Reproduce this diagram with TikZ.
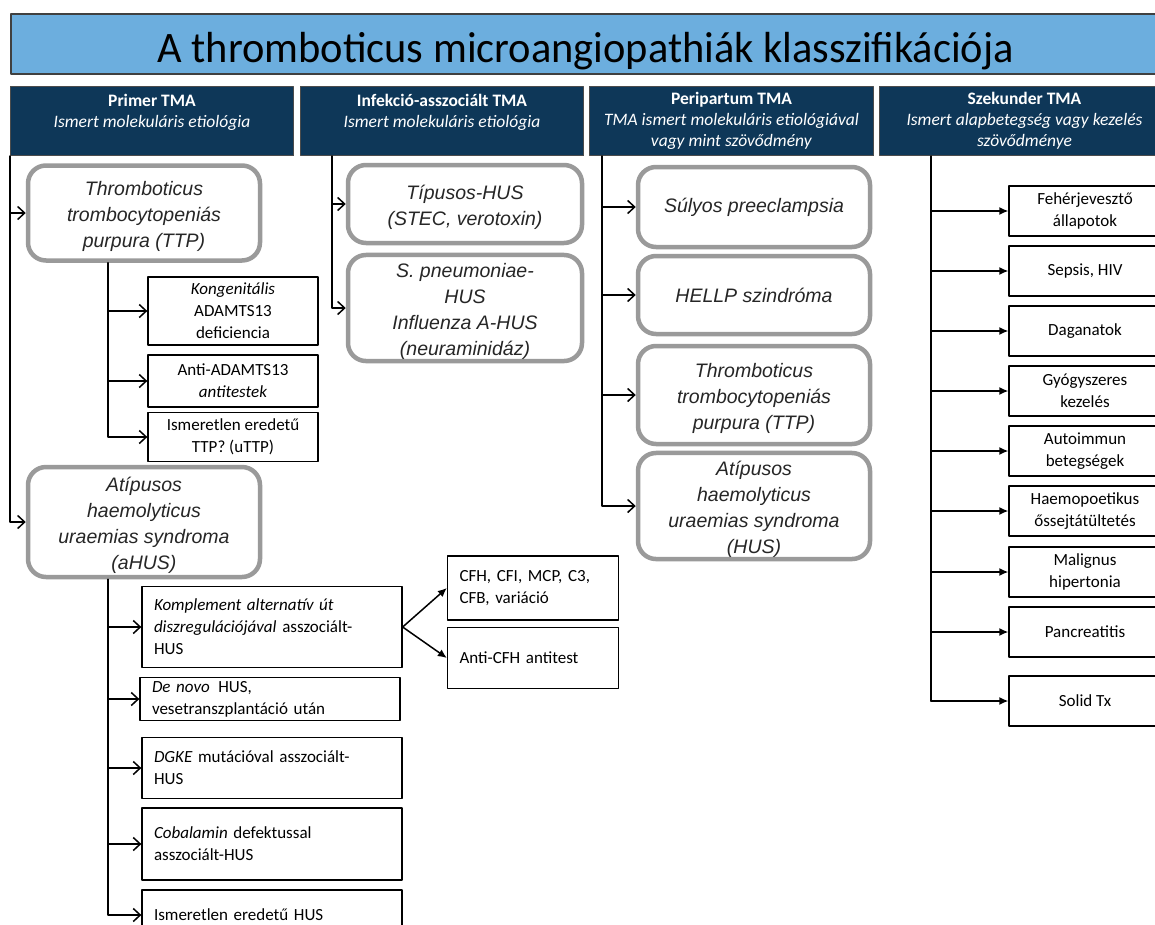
\documentclass[tikz,border=0pt]{standalone}
\usepackage{fontspec}
\usepackage{graphicx}
\setmainfont{Carlito}
\newfontfamily\arialfont{Liberation Sans}
\usetikzlibrary{arrows.meta}
\definecolor{titleblue}{HTML}{6CAEDE}
\definecolor{navy}{HTML}{0E3758}
\definecolor{boxgray}{HTML}{9A9A9A}
\newcommand{\gstrut}{\rule{0pt}{22pt}}
\begin{document}
\begin{tikzpicture}[x=1pt, y=-1pt, line join=round, line cap=round,
    hdr/.style={fill=navy, draw=black!70, line width=1pt, text=white, anchor=north west,
      minimum width=283, minimum height=69, align=center, font=\fontsize{17.5}{21}\selectfont},
    gbox/.style={draw=boxgray, line width=4.5pt, rounded corners=18pt, fill=white, text=black!85,
      minimum width=232, inner ysep=1pt, align=center, font=\arialfont\itshape\fontsize{19.5}{26}\selectfont},
    sbox/.style={draw=black, line width=1.3pt, fill=white, align=center,
      font=\fontsize{17}{22}\selectfont},
    lbox/.style={sbox, align=left, inner xsep=12pt},
    opn/.style={-{Straight Barb[length=7pt,width=13pt]}, line width=1.5pt},
    fil/.style={-{Latex[length=9pt,width=8pt]}, line width=1.5pt}]
\useasboundingbox (0,0) rectangle (1155,924);
\fill[white] (0,0) rectangle (1155,924);

% title and the four headers
\node[draw=black!75, line width=1.5pt, fill=titleblue, anchor=north west, minimum width=1150,
  minimum height=60, text height=40pt, text depth=2pt, font=\fontsize{43.5}{48}\selectfont] (title) at (10,13)
  {\scalebox{0.975}[1]{A thromboticus microangiopathiák klasszifikációja}};
\node[hdr] (prim) at (10,86) {\textbf{Primer TMA}\\\textit{Ismert molekuláris etiológia}\\~};
\node[hdr] (infk) at (300,86) {\textbf{Infekció-asszociált TMA}\\\textit{Ismert molekuláris etiológia}\\~};
\node[hdr, minimum width=284] (peri) at (589,86) {\textbf{Peripartum TMA}\\\textit{TMA ismert molekuláris etiológiával}\\\textit{vagy mint szövődmény}};
\node[hdr, minimum width=290] (szek) at (879,86) {\textbf{Szekunder TMA}\\\textit{Ismert alapbetegség vagy kezelés}\\\textit{szövődménye}};

\coordinate (t1) at (prim.south west);
\coordinate (t2) at ([xshift=32pt]infk.south west);
\coordinate (t3) at ([xshift=13pt]peri.south west);
\coordinate (t4) at ([xshift=52pt]szek.south west);

% primer TMA
\node[gbox, minimum height=95] (ttp) at (144,213) {\gstrut Thromboticus\\trombocytopeniás\\purpura (TTP)};
\node[gbox, minimum height=110] (ahus) at (144,522) {\gstrut Atípusos\\haemolyticus\\uraemias syndroma\\(aHUS)};
\draw[opn] (t1) |- (ahus.west);
\draw[opn] (t1 |- ttp.west) -- (ttp.west);

\node[sbox, minimum width=170, minimum height=68] (kong) at (233,311) {\textit{Kongenitális}\\ADAMTS13\\deficiencia};
\node[sbox, minimum width=170, minimum height=52] (anti) at (233,381) {Anti-ADAMTS13\\\textit{antitestek}};
\node[sbox, minimum width=170, minimum height=49] (uttp) at (233,437) {Ismeretlen eredetű\\TTP? (uTTP)};
\coordinate (s1) at ([xshift=-36pt]ttp.south);
\draw[opn] (s1) |- (uttp.west);
\foreach \nm in {kong,anti}
  \draw[opn] (s1 |- \nm.west) -- (\nm.west);

\node[lbox, text width=236, minimum height=81] (komp) at (272,627) {\textit{Komplement alternatív út}\\\textit{diszregulációjával} asszociált-\\HUS};
\node[lbox, text width=236, minimum height=42] (denv) at (270,699) {\textit{De novo}\, HUS,\\vesetranszplantáció után};
\node[lbox, text width=236, minimum height=61] (dgke) at (272,768) {\textit{DGKE} mutációval asszociált-\\HUS};
\node[lbox, text width=236, minimum height=72] (coba) at (272,844) {\textit{Cobalamin} defektussal\\asszociált-HUS};
\node[lbox, text width=236, minimum height=50] (ihus) at (272,915) {Ismeretlen eredetű HUS};
\coordinate (s2) at ([xshift=-36pt]ahus.south);
\draw[opn] (s2) |- (ihus.west);
\foreach \nm in {komp,denv,dgke,coba}
  \draw[opn] (s2 |- \nm.west) -- (\nm.west);

\node[lbox, text width=147, minimum height=64] (cfh) at (533,588) {CFH, CFI, MCP, C3,\\CFB, variáció};
\node[lbox, text width=147, minimum height=61] (acfh) at (533,658) {Anti-CFH antitest};
\draw[fil] (komp.east) -- (cfh.west);
\draw[fil] (komp.east) -- (acfh.west);

% infekcio-asszocialt TMA
\node[gbox, minimum width=234, minimum height=78] (tipu) at (465,204) {\gstrut Típusos-HUS\\(STEC, verotoxin)};
\node[gbox, minimum width=234, minimum height=106] (pneu) at (465,308) {\gstrut S. pneumoniae-\\HUS\\Influenza A-HUS\\(neuraminidáz)};
\draw[opn] (t2) |- (pneu.west);
\draw[opn] (t2 |- tipu.west) -- (tipu.west);

% peripartum TMA
\node[gbox, minimum height=80] (prec) at (754,207) {Súlyos preeclampsia};
\node[gbox, minimum height=78] (hell) at (754,295) {HELLP szindróma};
\node[gbox, minimum height=98] (ttpp) at (754,395) {\gstrut Thromboticus\\trombocytopeniás\\purpura (TTP)};
\node[gbox, minimum height=104] (husp) at (754,506) {\gstrut Atípusos\\haemolyticus\\uraemias syndroma\\(HUS)};
\draw[opn] (t3) |- (husp.west);
\foreach \nm in {prec,hell,ttpp}
  \draw[opn] (t3 |- \nm.west) -- (\nm.west);

% szekunder TMA
\foreach \nm/\yy/\txt in {fehe/211/{Fehérjevesztő\\állapotok}, seps/271/{Sepsis, HIV},
    daga/331/{Daganatok}, gyog/391/{Gyógyszeres\\kezelés}, auto/451/{Autoimmun\\betegségek},
    haem/511/{Haemopoetikus\\őssejtátültetés}, mali/572/{Malignus\\hipertonia},
    panc/632/{Pancreatitis}, soli/701/{Solid Tx}}{
  \node[sbox, minimum width=152, minimum height=50] (\nm) at (1085,\yy) {\txt};
  \draw[fil] (t4 |- \nm.west) -- (\nm.west);
}
\draw[line width=1.5pt] (t4) -- (t4 |- soli.west);
\end{tikzpicture}
\end{document}
